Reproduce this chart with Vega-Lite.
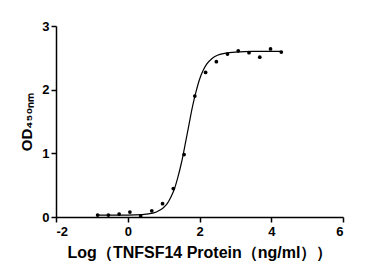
{
  "$schema": "https://vega.github.io/schema/vega-lite/v6.json",
  "width": 287,
  "height": 191,
  "autosize": {"type": "none"},
  "padding": {"left": 56, "top": 26, "right": 43, "bottom": 59},
  "background": "white",
  "config": {
    "view": {"stroke": null},
    "font": "Liberation Sans",
    "axis": {
      "grid": false,
      "domainColor": "black",
      "domainWidth": 1.5,
      "tickColor": "black",
      "tickWidth": 1.5,
      "tickSize": 5,
      "labelFont": "Liberation Sans",
      "labelFontWeight": "bold",
      "labelFontSize": 13,
      "labelColor": "black",
      "titleFont": "Liberation Sans",
      "titleFontWeight": "bold",
      "titleFontSize": 15,
      "titleColor": "black"
    }
  },
  "datasets": {
    "points": [
      {"x": -0.84, "y": 0.03},
      {"x": -0.54, "y": 0.03},
      {"x": -0.24, "y": 0.047},
      {"x": 0.06, "y": 0.078},
      {"x": 0.36, "y": 0.016},
      {"x": 0.67, "y": 0.098},
      {"x": 0.97, "y": 0.21},
      {"x": 1.27, "y": 0.446},
      {"x": 1.57, "y": 0.98},
      {"x": 1.87, "y": 1.9},
      {"x": 2.17, "y": 2.27},
      {"x": 2.47, "y": 2.44},
      {"x": 2.78, "y": 2.56},
      {"x": 3.08, "y": 2.61},
      {"x": 3.38, "y": 2.58},
      {"x": 3.68, "y": 2.51},
      {"x": 3.98, "y": 2.64},
      {"x": 4.28, "y": 2.59}
    ],
    "curve": [
      {"x": -0.84, "y": 0.03},
      {"x": 0.0, "y": 0.031},
      {"x": 0.4, "y": 0.038},
      {"x": 0.7, "y": 0.06},
      {"x": 0.9, "y": 0.11},
      {"x": 1.0, "y": 0.15},
      {"x": 1.1, "y": 0.21},
      {"x": 1.2, "y": 0.31},
      {"x": 1.3, "y": 0.44},
      {"x": 1.4, "y": 0.63},
      {"x": 1.5, "y": 0.86},
      {"x": 1.6, "y": 1.14},
      {"x": 1.7, "y": 1.43},
      {"x": 1.8, "y": 1.72},
      {"x": 1.9, "y": 1.96},
      {"x": 2.0, "y": 2.16},
      {"x": 2.1, "y": 2.3},
      {"x": 2.2, "y": 2.4},
      {"x": 2.35, "y": 2.49},
      {"x": 2.5, "y": 2.54},
      {"x": 2.7, "y": 2.57},
      {"x": 3.0, "y": 2.59},
      {"x": 3.5, "y": 2.6},
      {"x": 4.28, "y": 2.6}
    ]
  },
  "layer": [
    {
      "data": {"name": "curve"},
      "mark": {"type": "line", "color": "black", "strokeWidth": 1.2, "interpolate": "monotone"},
      "encoding": {
        "x": {
          "field": "x", "type": "quantitative",
          "scale": {"domain": [-2, 6], "nice": false},
          "axis": {"values": [-2, 0, 2, 4, 6], "format": "d", "labelExpr": "replace(datum.label, '−', '-')", "title": "Log（TNFSF14 Protein（ng/ml））", "titleFontSize": 16, "titlePadding": 6, "labelPadding": 3}
        },
        "y": {
          "field": "y", "type": "quantitative",
          "scale": {"domain": [0, 3], "nice": false},
          "axis": {"values": [0, 1, 2, 3], "format": "d", "title": "OD₄₅₀ₙₘ", "titlePadding": 7, "labelPadding": 2}
        }
      }
    },
    {
      "data": {"name": "points"},
      "mark": {"type": "point", "filled": true, "color": "black", "opacity": 1, "size": 14},
      "encoding": {
        "x": {"field": "x", "type": "quantitative"},
        "y": {"field": "y", "type": "quantitative"}
      }
    }
  ]
}
